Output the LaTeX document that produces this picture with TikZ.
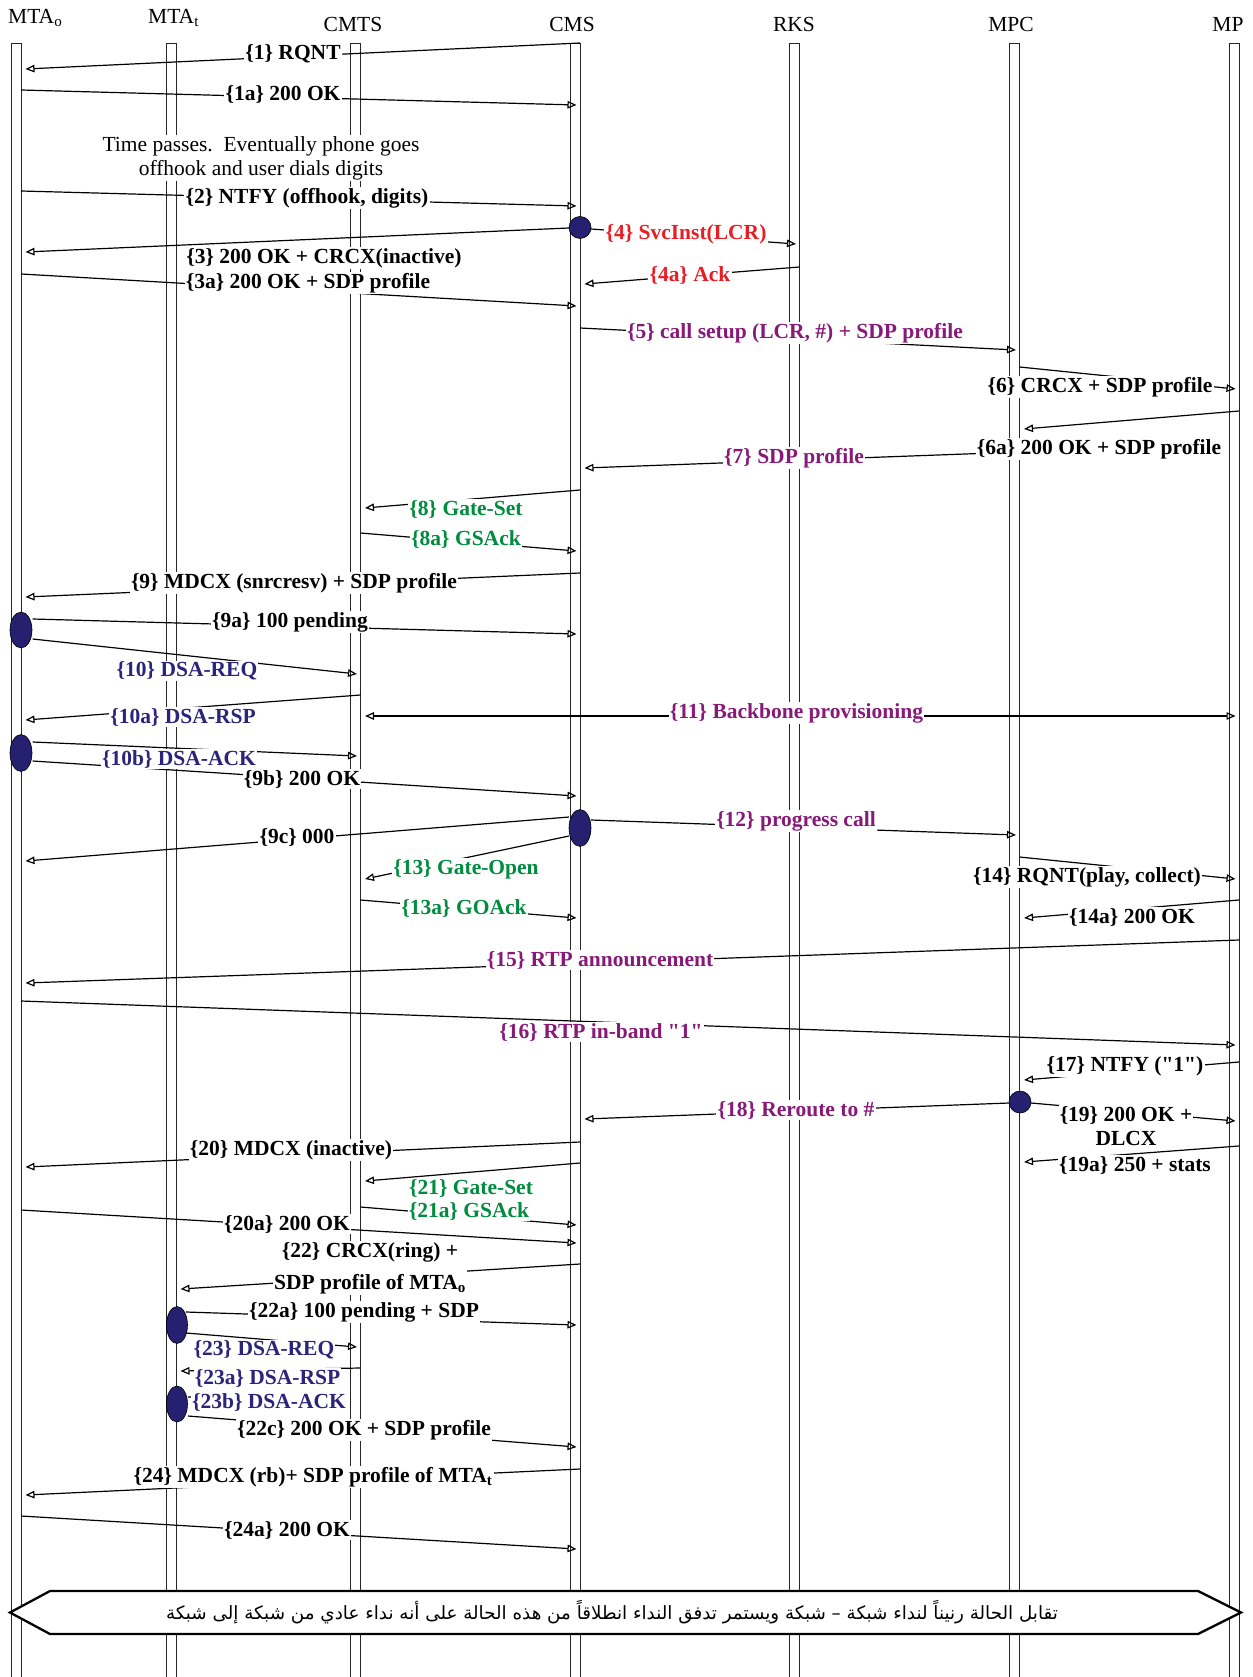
\documentclass[tikz,border=0pt]{standalone}
\usepackage{fontspec}
\setmainfont{Liberation Serif}[Ligatures=TeXOff]
\newfontfamily\arabicfont[Script=Arabic]{DejaVu Sans}
\TeXXeTstate=1
\usetikzlibrary{arrows.meta,shapes.geometric,calc}
\definecolor{cred}{RGB}{232,30,36}
\definecolor{cpur}{RGB}{135,25,120}
\definecolor{cgrn}{RGB}{0,140,62}
\definecolor{cnav}{RGB}{42,36,122}
\definecolor{cdot}{RGB}{38,32,112}
\begin{document}
\begin{tikzpicture}[x=1pt,y=-1pt,
  lifebox/.style={draw=black!85,line width=0.8pt},
  msg/.style={line width=1.2pt,-{Triangle[open,length=9pt,width=7.5pt]}},
  msgbi/.style={line width=1.2pt,{Triangle[open,length=9pt,width=7.5pt]}-{Triangle[open,length=9pt,width=7.5pt]}},
  plainmsg/.style={line width=1.2pt},
  lbl/.style={fill=white,inner sep=1.2pt,font=\fontsize{21.5}{24}\selectfont\bfseries,align=center},
  hdr/.style={font=\fontsize{21.5}{24}\selectfont,inner sep=0pt},
  note/.style={fill=white,inner sep=1.2pt,font=\fontsize{21.5}{24}\selectfont,align=center},
  actdot/.style={ellipse,draw=black,line width=0.6pt,fill=cdot,inner sep=0pt}]
\useasboundingbox (0,0) rectangle (1252,1677);
% lifelines
\foreach \n/\x in {mtao/16,mtat/171,cmts/355.5,cms/575,rks/794.5,mpc/1014.5,mp/1234}{
  \coordinate (\n) at (\x,0);
  \coordinate (s\n) at (\x+5,0);
  \coordinate (t\n) at (\x+9.5,0);
  \coordinate (r\n) at (\x+1.5,0);
  \draw[lifebox] (\x-5,1700) -- (\x-5,43) -- (\x+5,43) -- (\x+5,1700);
}
% headers
\node[hdr,anchor=base west] (hmtao) at (8,23.5) {MTA\textsubscript{o}};
\node[hdr,anchor=base west] (hmtat) at (148,23.5) {MTA\textsubscript{t}};
\node[hdr,anchor=base] (hcmts) at (353,31.5) {CMTS};
\node[hdr,anchor=base] (hcms) at (572,31.5) {CMS};
\node[hdr,anchor=base] (hrks) at (794,31.5) {RKS};
\node[hdr,anchor=base] (hmpc) at (1011,31.5) {MPC};
\node[hdr,anchor=base] (hmp) at (1228,31.5) {MP};
% dot anchors
\coordinate (d1) at (580,227.5);
\coordinate (d2) at (21,630);
\coordinate (d3) at (21,753);
\coordinate (d4) at (580,828);
\coordinate (d5) at (1020,1102);
\coordinate (d6) at (177,1325);
\coordinate (d7) at (177,1404);
% messages
\draw[msg] (scms |- 0,43) -- (tmtao |- 0,69);
\draw[msg] (smtao |- 0,90) -- (rcms |- 0,105);
\draw[msg] (smtao |- 0,191) -- (rcms |- 0,206);
\draw[msg] (d1) -- (tmtao |- 0,252);
\draw[msg] (591,229) -- (rrks |- 0,244);
\draw[msg] (smtao |- 0,274) -- (rcms |- 0,306);
\draw[msg] (srks |- 0,267) -- (tcms |- 0,284);
\draw[msg] (scms |- 0,328) -- (rmpc |- 0,350);
\draw[msg] (smpc |- 0,367) -- (rmp |- 0,389);
\draw[msg] (smp |- 0,411) -- (tmpc |- 0,429);
\draw[msg] (smpc |- 0,452) -- (tcms |- 0,468);
\draw[msg] (scms |- 0,490) -- (tcmts |- 0,508);
\draw[msg] (scmts |- 0,533) -- (rcms |- 0,551);
\draw[msg] (scms |- 0,573) -- (tmtao |- 0,597);
\draw[msg] (32.6,619) -- (rcms |- 0,634);
\draw[msg] (32.6,639) -- (rcmts |- 0,674);
\draw[msg] (scmts |- 0,695) -- (tmtao |- 0,720);
\draw[msgbi] (tcmts |- 0,716) -- (rmp |- 0,716);
\draw[msg] (32.6,742) -- (rcmts |- 0,756);
\draw[msg] (32.6,761) -- (rcms |- 0,796);
\draw[msg] (569,817) -- (tmtao |- 0,861);
\draw[msg] (591,820) -- (rmpc |- 0,835);
\draw[msg] (569,836) -- (tcmts |- 0,879);
\draw[msg] (smpc |- 0,857) -- (rmp |- 0,879);
\draw[msg] (scmts |- 0,900) -- (rcms |- 0,918);
\draw[msg] (smp |- 0,900) -- (tmpc |- 0,918);
\draw[msg] (smp |- 0,940) -- (tmtao |- 0,983);
\draw[msg] (smtao |- 0,1001) -- (rmp |- 0,1045);
\draw[msg] (smp |- 0,1062) -- (tmpc |- 0,1080);
\draw[msg] (1009,1103) -- (tcms |- 0,1119);
\draw[msg] (1031,1103) -- (rmp |- 0,1121);
\draw[msg] (smp |- 0,1146) -- (tmpc |- 0,1162);
\draw[msg] (scms |- 0,1142) -- (tmtao |- 0,1167);
\draw[msg] (scms |- 0,1163) -- (tcmts |- 0,1181);
\draw[msg] (scmts |- 0,1207) -- (rcms |- 0,1225);
\draw[msg] (smtao |- 0,1210) -- (rcms |- 0,1243);
\draw[msg] (scms |- 0,1264) -- (tmtat |- 0,1289);
\draw[msg] (186,1312) -- (rcms |- 0,1325);
\draw[msg] (186,1333) -- (rcmts |- 0,1347);
\draw[msg] (scmts |- 0,1368) -- (tmtat |- 0,1371);
\draw[plainmsg] (188,1397) -- (345,1400);
\draw[msg] (188,1416) -- (rcms |- 0,1447);
\draw[msg] (scms |- 0,1469) -- (tmtao |- 0,1495);
\draw[msg] (smtao |- 0,1516) -- (rcms |- 0,1549);
% activation dots
\node[actdot,minimum width=22pt,minimum height=22pt] (a1) at (d1) {};
\node[actdot,minimum width=22pt,minimum height=36pt] (a2) at (d2) {};
\node[actdot,minimum width=22pt,minimum height=37pt] (a3) at (d3) {};
\node[actdot,minimum width=22pt,minimum height=37pt] (a4) at (d4) {};
\node[actdot,minimum width=22pt,minimum height=22pt] (a5) at (d5) {};
\node[actdot,minimum width=21pt,minimum height=37pt] (a6) at (d6) {};
\node[actdot,minimum width=21pt,minimum height=36pt] (a7) at (d7) {};
% labels
\node[lbl] (m1) at (293,54) {\{1\} RQNT};
\node[lbl] (m1a) at (283,94) {\{1a\} 200 OK};
\node[note] (tp) at (261,158) {Time passes.\ \ Eventually phone goes\\offhook and user dials digits};
\node[lbl] (m2) at (307,198) {\{2\} NTFY (offhook, digits)};
\node[lbl] (m3) at (324,258) {\{3\} 200 OK + CRCX(inactive)};
\node[lbl,text=cred] (m4) at (686,234) {\{4\} SvcInst(LCR)};
\node[lbl] (m3a) at (308,283) {\{3a\} 200 OK + SDP profile};
\node[lbl,text=cred] (m4a) at (690,275) {\{4a\} Ack};
\node[lbl,text=cpur] (m5) at (795,333) {\{5\} call setup (LCR, \#) + SDP profile};
\node[lbl] (m6) at (1100,387) {\{6\} CRCX + SDP profile};
\node[lbl] (m6a) at (1099,449) {\{6a\} 200 OK + SDP profile};
\node[lbl,text=cpur] (m7) at (794,458) {\{7\} SDP profile};
\node[lbl,text=cgrn] (m8) at (466,509) {\{8\} Gate-Set};
\node[lbl,text=cgrn] (m8a) at (466,539) {\{8a\} GSAck};
\node[lbl] (m9) at (294,583) {\{9\} MDCX (snrcresv) + SDP profile};
\node[lbl] (m9a) at (290,622) {\{9a\} 100 pending};
\node[lbl,text=cnav] (m10) at (187,671) {\{10\} DSA-REQ};
\node[lbl,text=cnav] (m10a) at (183,717) {\{10a\} DSA-RSP};
\node[lbl,text=cpur] (m11) at (796.5,713) {\{11\} Backbone provisioning};
\node[lbl,text=cnav] (m10b) at (179,759) {\{10b\} DSA-ACK};
\node[lbl] (m9b) at (302,779) {\{9b\} 200 OK};
\node[lbl] (m9c) at (297,837) {\{9c\} 000};
\node[lbl,text=cpur] (m12) at (796,821) {\{12\} progress call};
\node[lbl,text=cgrn] (m13) at (466,869) {\{13\} Gate-Open};
\node[lbl] (m14) at (1087,877) {\{14\} RQNT(play, collect)};
\node[lbl,text=cgrn] (m13a) at (464,908) {\{13a\} GOAck};
\node[lbl] (m14a) at (1132,917) {\{14a\} 200 OK};
\node[lbl,text=cpur] (m15) at (600,960) {\{15\} RTP announcement};
\node[lbl,text=cpur] (m16) at (601,1032) {\{16\} RTP in-band "1"};
\node[lbl] (m17) at (1125,1066) {\{17\} NTFY ("1")};
\node[lbl,text=cpur] (m18) at (796,1110) {\{18\} Reroute to \#};
\node[lbl] (m19) at (1126,1126) {\{19\} 200 OK +\\DLCX};
\node[lbl] (m19a) at (1135,1165) {\{19a\} 250 + stats};
\node[lbl] (m20) at (291,1150) {\{20\} MDCX (inactive)};
\node[lbl,text=cgrn] (m21) at (471,1188) {\{21\} Gate-Set};
\node[lbl,text=cgrn] (m21a) at (469,1211) {\{21a\} GSAck};
\node[lbl] (m20a) at (287,1224) {\{20a\} 200 OK};
\node[lbl] (m22) at (370,1268) {\{22\} CRCX(ring) +\\[8pt]SDP profile of MTA\textsubscript{o}};
\node[lbl] (m22a) at (364,1312) {\{22a\} 100 pending + SDP};
\node[lbl,text=cnav] (m23) at (264,1350) {\{23\} DSA-REQ};
\node[lbl,text=cnav] (m23a) at (267.5,1378) {\{23a\} DSA-RSP};
\node[lbl,text=cnav] (m23b) at (269,1402) {\{23b\} DSA-ACK};
\node[lbl] (m22c) at (364,1430) {\{22c\} 200 OK + SDP profile};
\node[lbl] (m24) at (313,1477) {\{24\} MDCX (rb)+ SDP profile of MTA\textsubscript{t}};
\node[lbl] (m24a) at (287,1530) {\{24a\} 200 OK};
% closing banner
\draw[line width=2.3pt,fill=white] (10,1612.5) -- (50,1591) -- (1198,1591) -- (1241,1612.5) -- (1198,1634) -- (50,1634) -- cycle;
\node[inner sep=0pt] (banner) at (612,1612) {\arabicfont\fontsize{18.3}{21}\selectfont\beginR تقابل الحالة رنيناً لنداء شبكة – شبكة ويستمر تدفق النداء انطلاقاً من هذه الحالة على أنه نداء عادي من شبكة إلى شبكة\endR};
\end{tikzpicture}
\end{document}
